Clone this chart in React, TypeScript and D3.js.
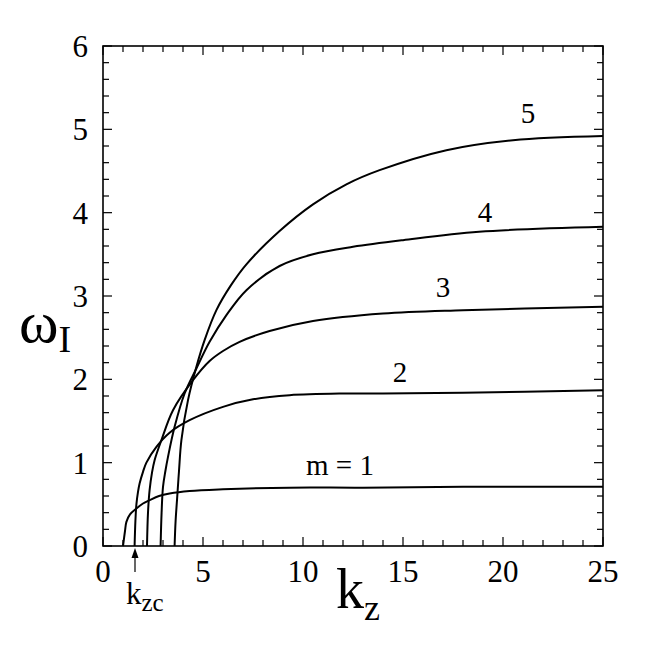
import * as d3 from 'd3';
import React, { useRef, useEffect } from 'react';

// growth rate omega_I vs k_z for azimuthal modes m = 1..5
const k1 = [1.0, 1.1, 1.17, 1.35, 1.67, 2.0, 2.33, 2.8, 3.33, 4.33, 6.0, 9.33, 13, 18, 25];
const w1 = [0, 0.18, 0.29, 0.38, 0.45, 0.51, 0.55, 0.6, 0.63, 0.66, 0.68, 0.7, 0.7, 0.71, 0.71];

const k2 = [1.58, 1.62, 1.67, 1.75, 1.83, 2.0, 2.17, 2.67, 3.33, 4.33, 6.0, 7.5, 9.33, 12, 14, 18, 25];
const w2 = [0, 0.3, 0.5, 0.65, 0.75, 0.89, 1.0, 1.19, 1.36, 1.51, 1.67, 1.76, 1.81, 1.83, 1.83, 1.84, 1.87];

const k3 = [2.2, 2.25, 2.33, 2.45, 2.58, 2.92, 3.5, 4.5, 5.33, 6.0, 6.83, 8.33, 10.5, 14, 18, 25];
const w3 = [0, 0.4, 0.67, 0.88, 1.03, 1.27, 1.63, 1.99, 2.22, 2.34, 2.45, 2.58, 2.7, 2.79, 2.83, 2.87];

const k4 = [2.88, 2.93, 3.0, 3.12, 3.25, 3.58, 4.08, 4.67, 5.33, 6.17, 7.17, 8.83, 10.5, 12.5, 15, 18.8, 25];
const w4 = [0, 0.4, 0.71, 0.9, 1.07, 1.43, 1.83, 2.13, 2.45, 2.77, 3.07, 3.36, 3.5, 3.59, 3.67, 3.77, 3.83];

const k5 = [3.58, 3.63, 3.7, 3.8, 3.92, 4.25, 4.67, 5.08, 5.67, 6.4, 7.17, 8.83, 10.5, 12.17, 13.83, 17.17, 20.5, 25];
const w5 = [0, 0.3, 0.55, 0.9, 1.27, 1.75, 2.15, 2.47, 2.83, 3.13, 3.38, 3.78, 4.1, 4.34, 4.51, 4.75, 4.87, 4.92];

const curveLabels = ['m = 1', '2', '3', '4', '5'];
const labelK = [11.85, 14.85, 17.0, 19.1, 21.25];
const labelW = [0.97, 2.09, 3.11, 4.01, 5.2];

const xTicks = [0, 5, 10, 15, 20, 25];
const yTicks = [0, 1, 2, 3, 4, 5, 6];
const kzc = 1.6;

const FONT = '"Liberation Serif", "Times New Roman", serif';

function App() {
  const ref = useRef<SVGSVGElement>(null);

  useEffect(() => {
    const width = 660;
    const height = 654;
    const margin = { top: 46, right: 57, bottom: 108, left: 103 };

    const x = d3.scaleLinear().domain([0, 25]).range([margin.left, width - margin.right]);
    const y = d3.scaleLinear().domain([0, 6]).range([height - margin.bottom, margin.top]);

    const svg = d3.select(ref.current);
    svg.selectAll('*').remove();

    const series = [
      [k1, w1], [k2, w2], [k3, w3], [k4, w4], [k5, w5],
    ].map(([ks, ws]) => ks.map((k, i) => [k, ws[i]] as [number, number]));

    const line = d3.line<[number, number]>()
      .curve(d3.curveCatmullRom.alpha(0.5))
      .x(d => x(d[0]))
      .y(d => y(d[1]));

    const plot = svg.append('g');
    series.forEach(s => {
      plot.append('path')
        .datum(s)
        .attr('fill', 'none')
        .attr('stroke', '#000')
        .attr('stroke-width', 2)
        .attr('d', line);
    });

    // frame
    const [x0, x1] = x.range();
    const [y0, y1] = y.range();
    svg.append('rect')
      .attr('x', x0).attr('y', y1)
      .attr('width', x1 - x0).attr('height', y0 - y1)
      .attr('fill', 'none').attr('stroke', '#000').attr('stroke-width', 1.6);

    // inward ticks on all four sides
    const ticks = svg.append('g').attr('stroke', '#000').attr('stroke-width', 1.2);
    d3.range(0, 26, 1).forEach(v => {
      const len = v % 5 === 0 ? 9 : 6;
      ticks.append('line').attr('x1', x(v)).attr('x2', x(v)).attr('y1', y0).attr('y2', y0 - len);
      ticks.append('line').attr('x1', x(v)).attr('x2', x(v)).attr('y1', y1).attr('y2', y1 + len);
    });
    d3.range(0, 31, 1).forEach(i => {
      const v = i * 0.2;
      const len = i % 5 === 0 ? 9 : 6;
      ticks.append('line').attr('x1', x0).attr('x2', x0 + len).attr('y1', y(v)).attr('y2', y(v));
      ticks.append('line').attr('x1', x1).attr('x2', x1 - len).attr('y1', y(v)).attr('y2', y(v));
    });

    // tick labels
    svg.append('g').selectAll('text').data(xTicks).join('text')
      .attr('x', d => x(d))
      .attr('y', y0 + 36)
      .attr('text-anchor', 'middle')
      .attr('font-family', FONT)
      .attr('font-size', 31)
      .text(d => d);

    svg.append('g').selectAll('text').data(yTicks).join('text')
      .attr('x', x0 - 15)
      .attr('y', d => y(d) + 11)
      .attr('text-anchor', 'end')
      .attr('font-family', FONT)
      .attr('font-size', 31)
      .text(d => d);

    // curve labels
    svg.append('g').selectAll('text').data(curveLabels).join('text')
      .attr('x', (d, i) => x(labelK[i]))
      .attr('y', (d, i) => y(labelW[i]) + 10)
      .attr('text-anchor', 'middle')
      .attr('font-family', FONT)
      .attr('font-size', 29)
      .text(d => d);

    // axis titles
    const xt = svg.append('text')
      .attr('x', 336).attr('y', 608)
      .attr('font-family', FONT)
      .attr('font-size', 56);
    xt.append('tspan').text('k');
    xt.append('tspan').attr('font-size', 36).attr('dy', 12).text('z');

    const yt = svg.append('text')
      .attr('x', 19).attr('y', 342)
      .attr('font-family', FONT)
      .attr('font-size', 60);
    yt.append('tspan').text('\u03c9');
    yt.append('tspan').attr('font-size', 38).attr('dy', 10).text('I');

    // k_zc marker
    const ax = x(kzc);
    svg.append('line')
      .attr('x1', ax).attr('x2', ax).attr('y1', y0 + 26).attr('y2', y0 + 9)
      .attr('stroke', '#000').attr('stroke-width', 1.2);
    svg.append('path')
      .attr('d', `M${ax},${y0 + 2} L${ax - 3.5},${y0 + 12} L${ax + 3.5},${y0 + 12} Z`)
      .attr('fill', '#000');
    const kt = svg.append('text')
      .attr('x', 126).attr('y', 604)
      .attr('font-family', FONT)
      .attr('font-size', 31);
    kt.append('tspan').text('k');
    kt.append('tspan').attr('font-size', 25).attr('dy', 7).text('zc');
  }, []);

  return (
    <svg
      ref={ref}
      width={660}
      height={654}
      style={{ position: 'absolute', left: 0, top: 0, background: '#fff' }}
    />
  );
}

export default App;
